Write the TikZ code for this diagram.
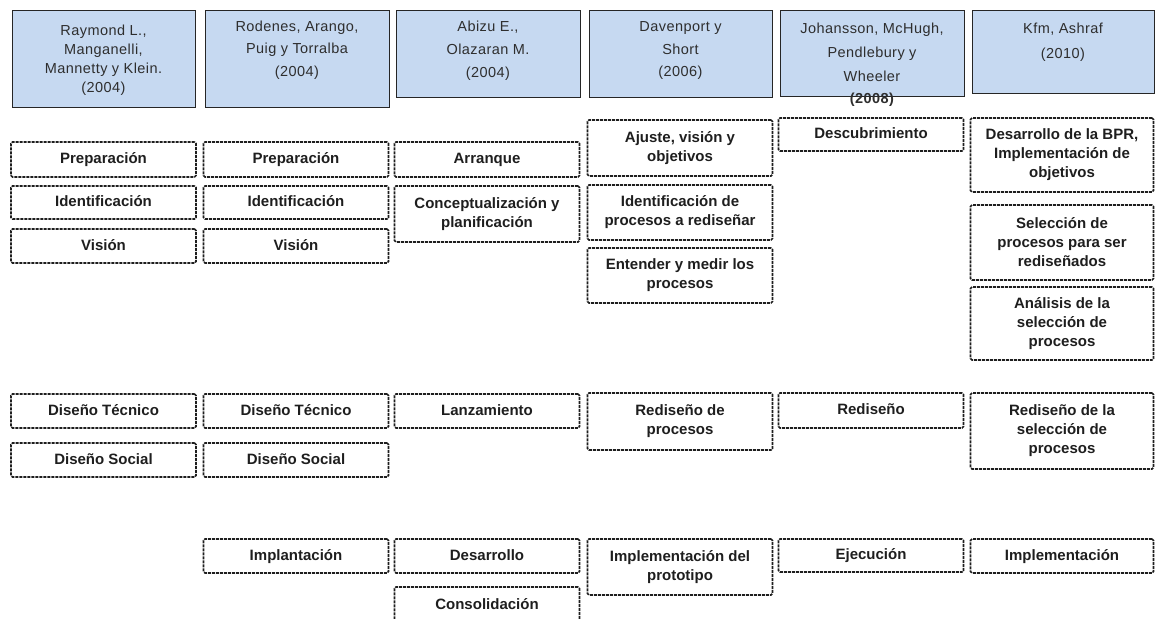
\documentclass[tikz,border=0pt]{standalone}
\usepackage{fontspec}
\setmainfont{Liberation Sans}
\newfontfamily\hdrfont[LetterSpace=3]{Liberation Sans}
\usetikzlibrary{shadows}
\definecolor{hdrblue}{RGB}{198,217,241}
\definecolor{inkgrey}{RGB}{30,30,30}
\begin{document}
\begin{tikzpicture}[x=1pt,y=-1pt,
  hdrbox/.style={draw=black!85, line width=1pt, fill=hdrblue, inner sep=0pt,
    general shadow={fill=black!75, shadow xshift=1.3pt, shadow yshift=-1.3pt}},
  hdrtext/.style={font=\hdrfont\fontsize{14.5}{#1}\selectfont, text=black!82,
    align=center, inner sep=0pt},
  dbox/.style={draw=inkgrey, line width=1.6pt, dash pattern=on 3pt off 1pt,
    rounded corners=1.5pt, minimum width=185pt, inner sep=0pt, align=center,
    font=\bfseries\fontsize{15}{19}\selectfont, text=inkgrey},
  one/.style={text height=11pt, text depth=3pt}]
\useasboundingbox (0,0) rectangle (1155,618);
\clip (0,0) rectangle (1155,618);

% author headers
\node[hdrbox, minimum width=183pt, minimum height=96pt] (h1) at (103.5,59) {};
\node[hdrbox, minimum width=184pt, minimum height=96pt] (h2) at (297,59) {};
\node[hdrbox, minimum width=184pt, minimum height=86pt] (h3) at (488,54) {};
\node[hdrbox, minimum width=183pt, minimum height=86pt] (h4) at (680.5,54) {};
\node[hdrbox, minimum width=184pt, minimum height=85pt] (h5) at (872,53.5) {};
\node[hdrbox, minimum width=182pt, minimum height=82pt] (h6) at (1063,52) {};

\node[hdrtext=19] (h1t) at (103.5,60) {Raymond L.,\\Manganelli,\\Mannetty y Klein.\\(2004)};
\node[hdrtext=22.5] (h2t) at (297,50) {Rodenes, Arango,\\Puig y Torralba\\(2004)};
\node[hdrtext=23] (h3t) at (488,50.5) {Abizu E.,\\Olazaran M.\\(2004)};
\node[hdrtext=22.5] (h4t) at (680.5,51) {Davenport y\\Short\\(2006)};
\node[hdrtext=24] (h5t) at (872,52) {Johansson, McHugh,\\Pendlebury y\\Wheeler};
\node[hdrtext=24, font=\hdrfont\bfseries\fontsize{14.5}{24}\selectfont] (h5y) at (872,100) {(2008)};
\node[hdrtext=25] (h6t) at (1063,42) {Kfm, Ashraf\\(2010)};

% column 1
\node[dbox, one, minimum height=35pt] (a1) at (103.5,159.5) {Preparación};
\node[dbox, one, minimum height=33pt] (a2) at (103.5,202.5) {Identificación};
\node[dbox, one, minimum height=34pt] (a3) at (103.5,246) {Visión};
\node[dbox, one, minimum height=34pt] (a4) at (103.5,411) {Diseño Técnico};
\node[dbox, one, minimum height=34pt] (a5) at (103.5,460) {Diseño Social};

% column 2
\node[dbox, one, minimum height=35pt] (b1) at (296,159.5) {Preparación};
\node[dbox, one, minimum height=33pt] (b2) at (296,202.5) {Identificación};
\node[dbox, one, minimum height=34pt] (b3) at (296,246) {Visión};
\node[dbox, one, minimum height=34pt] (b4) at (296,411) {Diseño Técnico};
\node[dbox, one, minimum height=34pt] (b5) at (296,460) {Diseño Social};
\node[dbox, one, minimum height=34pt] (b6) at (296,556) {Implantación};

% column 3
\node[dbox, one, minimum height=35pt] (c1) at (487,159.5) {Arranque};
\node[dbox, minimum height=56pt] (c2) at (487,214) {Conceptualización y\\planificación};
\node[dbox, one, minimum height=34pt] (c3) at (487,411) {Lanzamiento};
\node[dbox, one, minimum height=34pt] (c4) at (487,556) {Desarrollo};
\node[dbox, one, minimum height=37pt] (c5) at (487,605.5) {Consolidación};

% column 4
\node[dbox, minimum height=56pt, font=\bfseries\fontsize{15}{18.5}\selectfont] (d1) at (680,148) {Ajuste, visión y\\objetivos};
\node[dbox, minimum height=55pt] (d2) at (680,212.5) {Identificación de\\procesos a rediseñar};
\node[dbox, minimum height=55pt] (d3) at (680,275.5) {Entender y medir los\\procesos};
\node[dbox, minimum height=57pt] (d4) at (680,421.5) {Rediseño de\\procesos};
\node[dbox, minimum height=56pt] (d5) at (680,567) {Implementación del\\prototipo};

% column 5
\node[dbox, one, minimum height=33pt] (e1) at (871,134.5) {Descubrimiento};
\node[dbox, one, minimum height=35pt] (e2) at (871,410.5) {Rediseño};
\node[dbox, one, minimum height=33pt] (e3) at (871,555.5) {Ejecución};

% column 6
\node[dbox, minimum width=183pt, minimum height=74pt] (f1) at (1062,155) {Desarrollo de la BPR,\\Implementación de\\objetivos};
\node[dbox, minimum width=183pt, minimum height=75pt] (f2) at (1062,242.5) {Selección de\\procesos para ser\\rediseñados};
\node[dbox, minimum width=183pt, minimum height=73pt] (f3) at (1062,323.5) {Análisis de la\\selección de\\procesos};
\node[dbox, minimum width=183pt, minimum height=76pt] (f4) at (1062,431) {Rediseño de la\\selección de\\procesos};
\node[dbox, one, minimum width=183pt, minimum height=34pt] (f5) at (1062,556) {Implementación};
\end{tikzpicture}
\end{document}
